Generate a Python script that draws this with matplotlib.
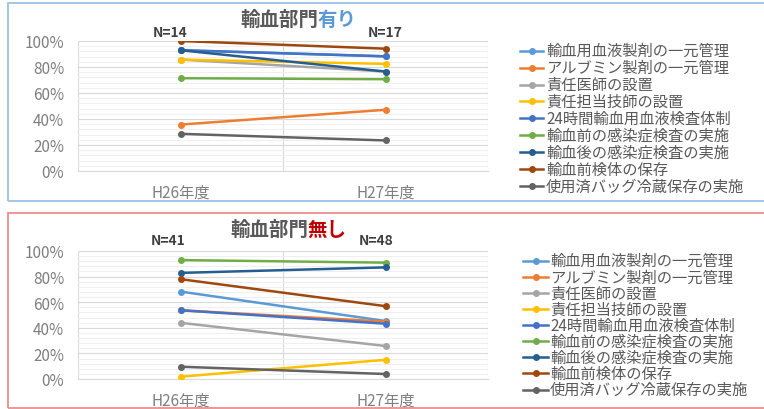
import matplotlib
matplotlib.use("Agg")
import matplotlib.pyplot as plt
from matplotlib.patches import Rectangle
from matplotlib.lines import Line2D
from matplotlib.ticker import MultipleLocator, FixedLocator, FuncFormatter

plt.rcParams['font.family'] = ['Noto Sans CJK JP', 'DejaVu Sans']

categories = ["H26年度", "H27年度"]
series_names = [
    "輸血用血液製剤の一元管理",
    "アルブミン製剤の一元管理",
    "責任医師の設置",
    "責任担当技師の設置",
    "24時間輸血用血液検査体制",
    "輸血前の感染症検査の実施",
    "輸血後の感染症検査の実施",
    "輸血前検体の保存",
    "使用済バッグ冷蔵保存の実施",
]
colors = ["#5B9BD5", "#ED7D31", "#A5A5A5", "#FFC000", "#4472C4",
          "#70AD47", "#255E91", "#9E480E", "#636363"]

# 輸血部門有り (percent)
with_dept = [
    [92.9, 88.2],
    [35.7, 47.1],
    [85.7, 76.5],
    [85.7, 82.4],
    [92.9, 88.2],
    [71.4, 70.6],
    [92.9, 76.5],
    [100.0, 94.1],
    [28.6, 23.5],
]
# 輸血部門無し (percent)
without_dept = [
    [68.3, 45.3],
    [53.7, 44.8],
    [43.9, 25.8],
    [1.8, 15.0],
    [53.7, 43.2],
    [92.9, 90.9],
    [82.9, 87.2],
    [78.0, 56.9],
    [9.6, 3.9],
]
n_top = ["N=14", "N=17"]
n_bottom = ["N=41", "N=48"]
yticks = [0, 20, 40, 60, 80, 100]

W, H = 764, 410
fig = plt.figure(figsize=(W / 100, H / 100), dpi=100)
fig.patch.set_facecolor("white")


def fx(px):
    return px / W


def fy(py):
    return 1 - py / H


def make_axes(top_px, bottom_px, data):
    ax = fig.add_axes([fx(78), fy(bottom_px), fx(488) - fx(78), (bottom_px - top_px) / H])
    x = list(range(len(categories)))
    for vals, c in zip(data, colors):
        ax.plot(x, vals, color=c, lw=1.8, marker="o", ms=4, zorder=3,
                solid_capstyle="round")
    ax.set_xlim(-0.5, 1.5)
    ax.set_ylim(0, 100)
    ax.yaxis.set_major_locator(FixedLocator(yticks))
    ax.yaxis.set_minor_locator(MultipleLocator(4))
    ax.yaxis.set_major_formatter(FuncFormatter(lambda v, p: f"{int(v)}%"))
    ax.set_xticks(x)
    ax.set_xticklabels(categories)
    ax.xaxis.set_minor_locator(FixedLocator([-0.5, 0.5, 1.5]))
    ax.grid(which="major", axis="y", color="#D9D9D9", lw=0.8, zorder=0)
    ax.grid(which="minor", axis="y", color="#EFEFEF", lw=0.7, zorder=0)
    ax.grid(which="minor", axis="x", color="#D9D9D9", lw=0.8, zorder=0)
    ax.tick_params(which="both", length=0)
    ax.tick_params(axis="y", labelsize=11, labelcolor="#7F7F7F", pad=10)
    ax.tick_params(axis="x", labelsize=11, labelcolor="#7F7F7F", pad=9)
    for s in ax.spines.values():
        s.set_visible(False)
    ax.spines["bottom"].set_visible(True)
    ax.spines["bottom"].set_color("#D9D9D9")
    ax.set_facecolor("none")
    return ax


ax1 = make_axes(42, 172, with_dept)
ax2 = make_axes(252, 380, without_dept)

# Borders
fig.add_artist(Rectangle((fx(8), fy(202)), fx(770) - fx(8), (202 - 4) / H,
                         transform=fig.transFigure, fill=False,
                         edgecolor="#9DC3E6", lw=1.3))
fig.add_artist(Rectangle((fx(8), fy(409)), fx(770) - fx(8), (409 - 214) / H,
                         transform=fig.transFigure, fill=False,
                         edgecolor="#F08C8C", lw=1.3))

# Titles
fig.text(fx(318), fy(20), "輸血部門", ha="right", va="center", fontsize=14,
         fontweight="bold", color="#595959")
fig.text(fx(318), fy(20), "有り", ha="left", va="center", fontsize=14,
         fontweight="bold", color="#5B9BD5")
fig.text(fx(308), fy(230), "輸血部門", ha="right", va="center", fontsize=14,
         fontweight="bold", color="#595959")
fig.text(fx(308), fy(230), "無し", ha="left", va="center", fontsize=14,
         fontweight="bold", color="#C00000")

# N labels
for label, px in zip(n_top, [170, 385]):
    fig.text(fx(px), fy(33), label, ha="center", va="center", fontsize=10,
             fontweight="bold", color="#404040")
for label, px in zip(n_bottom, [168, 376]):
    fig.text(fx(px), fy(241), label, ha="center", va="center", fontsize=10,
             fontweight="bold", color="#404040")


def draw_legend(x0, x1, xt, y_first, spacing):
    for i, (name, c) in enumerate(zip(series_names, colors)):
        yy = y_first + i * spacing
        fig.add_artist(Line2D([fx(x0), fx(x1)], [fy(yy), fy(yy)],
                              transform=fig.transFigure, color=c, lw=1.8))
        fig.add_artist(Line2D([fx((x0 + x1) / 2)], [fy(yy)],
                              transform=fig.transFigure, color=c, marker="o", ms=4))
        fig.text(fx(xt), fy(yy), name, ha="left", va="center", fontsize=11,
                 color="#595959")


draw_legend(520, 543, 546, 51.7, 16.9)
draw_legend(523, 548, 550, 261.7, 16.1)

fig.savefig("out.png", dpi=100)
